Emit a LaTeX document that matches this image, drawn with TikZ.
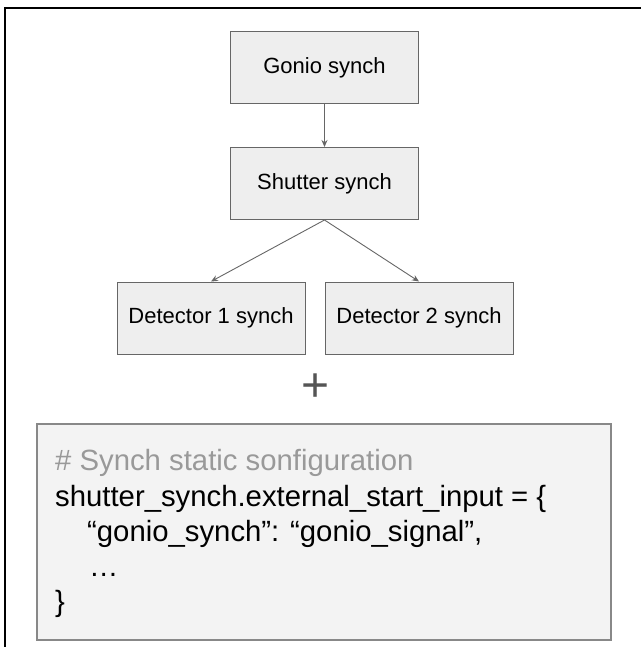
\documentclass[tikz,border=0pt]{standalone}
\usepackage{fontspec}
\setmainfont{Liberation Sans}
\usetikzlibrary{arrows.meta}
\definecolor{boxfill}{HTML}{EEEEEE}
\definecolor{boxline}{HTML}{666666}
\definecolor{codefill}{HTML}{F3F3F3}
\definecolor{codeline}{HTML}{888888}
\definecolor{commentgray}{HTML}{999999}
\definecolor{plusgray}{HTML}{555555}
\tikzset{
  syncbox/.style={draw=boxline, fill=boxfill, line width=1pt, minimum width=188pt, minimum height=72pt, inner sep=0pt, font=\fontsize{22}{26}\selectfont},
  conn/.style={draw=boxline, line width=0.9pt, -{Stealth[length=7pt,width=6pt]}},
  codebox/.style={draw=codeline, fill=codefill, line width=2pt, minimum width=574pt, minimum height=216pt, inner sep=0pt},
  codeline/.style={anchor=base west, inner sep=0pt, font=\fontsize{29.3}{35}\selectfont},
}
\begin{document}
\begin{tikzpicture}[x=1pt,y=-1pt]
\useasboundingbox (0,0) rectangle (640,647);
\draw[line width=2pt, black] (5,647) -- (5,8) -- (641,8);
\node[syncbox] (gonio) at (324.5,67.5) {Gonio synch};
\node[syncbox] (shutter) at (324.5,183.5) {Shutter synch};
\node[syncbox] (det1) at (211,318) {Detector 1 synch};
\node[syncbox] (det2) at (419,318) {Detector 2 synch};
\draw[conn] (gonio.south) -- (shutter.north);
\draw[conn] (shutter.south) -- (det1.north);
\draw[conn] (shutter.south) -- (det2.north);
\node[text=plusgray, inner sep=0pt, font=\fontsize{48}{50}\selectfont] (plus) at (315.5,388) {+};
\node[codebox] (code) at (324,532) {};
\node[codeline, text=commentgray] (l1) at (55,470) {\# Synch static sonfiguration};
\node[codeline] (l2) at (55,506) {shutter\_synch.external\_start\_input = \{};
\node[codeline] (l3) at (87,541) {“gonio\_synch”: “gonio\_signal”,};
\node[codeline] (l4) at (89,576) {…};
\node[codeline] (l5) at (55,611) {\}};
\end{tikzpicture}
\end{document}
